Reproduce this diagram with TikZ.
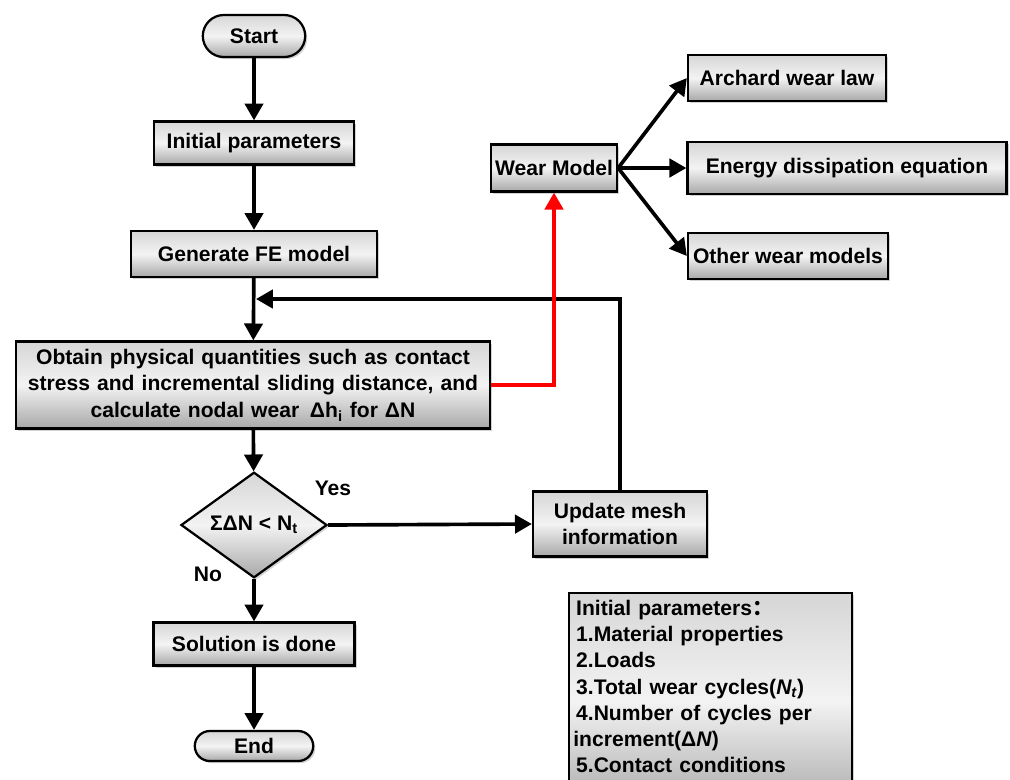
\documentclass[tikz,border=0pt]{standalone}
\usepackage{fontspec}
\setmainfont{Liberation Sans}
\newfontfamily\cjk{Noto Sans CJK SC}
\usetikzlibrary{shapes.geometric, shapes.misc, arrows.meta, shadows}
\definecolor{BoxTop}{RGB}{214,214,214}
\definecolor{BoxMid}{RGB}{243,243,243}
\definecolor{BoxBot}{RGB}{168,168,168}
\definecolor{LoopRed}{RGB}{255,0,0}

\begin{document}
\begin{tikzpicture}[x=0.025cm, y=-0.025cm,
          every node/.style={font=\fontsize{15}{19}\selectfont\bfseries},
          box/.style={rectangle, draw=black, line width=1.6pt,
                      top color=BoxTop, bottom color=BoxBot, middle color=BoxMid,
                      drop shadow={shadow xshift=1.5pt, shadow yshift=-1.5pt,
                                   fill=black!35},
                      align=center, inner sep=2pt},
          term/.style={box, rounded rectangle},
          dec/.style={box, diamond, inner sep=0pt},
          arr/.style={-{Triangle[length=12pt, width=13pt]}, line width=2.6pt},
          redarr/.style={arr, color=LoopRed}
        ]
        \useasboundingbox (0,0) rectangle (1010,779);

        % main column
        \node[term, minimum width=2.7cm, minimum height=1.05cm] (start) at (254,36) {Start};
        \node[box, minimum width=5cm, minimum height=1.075cm] (init) at (254,143) {Initial parameters};
        \node[box, minimum width=6.15cm, minimum height=1.15cm] (gen) at (254,254) {Generate FE model};
        \node[box, minimum width=11.85cm, minimum height=2.175cm, text width=11.4cm]
              (obt) at (253,385)
              {Obtain physical quantities such as contact\\stress and incremental sliding distance, and\\calculate nodal wear~~$\!$Δh\textsubscript{i} for ΔN};
        \node[dec, minimum width=3.65cm, minimum height=1.65cm] (chk) at (254,525)
              {ΣΔN < N\textsubscript{t}};
        \node[box, minimum width=5.025cm, minimum height=1.075cm] (sol) at (254,644) {Solution is done};
        \node[term, minimum width=3.1cm, minimum height=0.75cm] (stop) at (254,746) {End};

        % loop back
        \node[box, minimum width=4.35cm, minimum height=1.625cm] (upd) at (620,524)
              {Update mesh\\information};
        \coordinate (join) at (256,299);
        \node at (333,488) {Yes};
        \node at (208,574) {No};

        % wear models
        \node[box, minimum width=3.15cm, minimum height=1.175cm, inner sep=1pt] (wm) at (554,168) {Wear Model};
        \node[box, minimum width=4.95cm, minimum height=1.15cm] (arch) at (787,78) {Archard wear law};
        \node[box, minimum width=7.975cm, minimum height=1.3cm] (ener) at (847,168) {Energy dissipation equation};
        \node[box, minimum width=5cm, minimum height=1.15cm] (other) at (788,256) {Other wear models};

        % parameter list
        \node[box, anchor=north west, minimum width=7.05cm,
              text width=6.85cm, text height=13pt, text depth=135pt, align=left,
              inner xsep=3pt, inner ysep=3pt,
              font=\fontsize{15}{18.6}\selectfont\bfseries]
              (plist) at (568,592)
              {\hspace*{2pt}Initial parameters{\cjk ：}\\
               \hspace*{2pt}1.Material properties\\
               \hspace*{2pt}2.Loads\\
               \hspace*{2pt}3.Total wear cycles(\textit{N\textsubscript{t}})\\
               \hspace*{2pt}4.Number of cycles per\\
               increment(Δ\textit{N})\\
               \hspace*{2pt}5.Contact conditions};

        \draw[arr] (start) -- (init);
        \draw[arr] (init) -- (gen);
        \draw[arr] (gen) -- (obt);
        \draw[arr] (obt) -- (chk);
        \draw[arr] (chk.east) -- (upd.west);
        \draw[arr] (chk.south) -- (sol.north);
        \draw[arr] (sol) -- (stop);
        \draw[arr] (upd.north) |- (join);
        \draw[redarr] (obt.east) -| (wm.south);
        \foreach \m in {arch, ener, other} {
          \draw[arr] (wm.east) -- (\m.west);
        }
\end{tikzpicture}
\end{document}
